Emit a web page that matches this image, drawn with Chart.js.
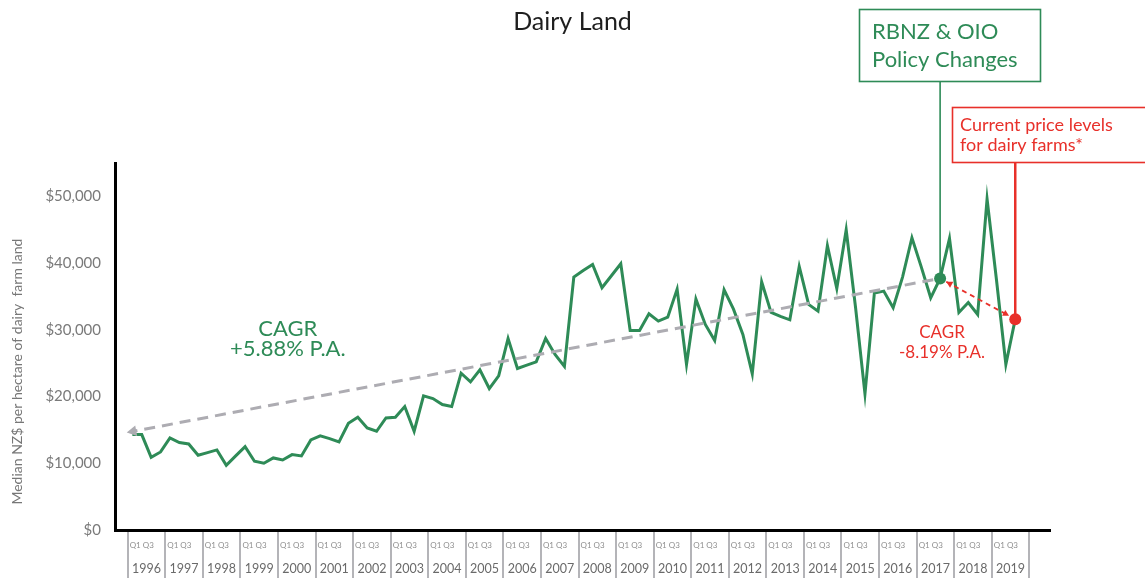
<!DOCTYPE html>
<html>
<head>
<meta charset="utf-8">
<title>Dairy Land</title>
<script src="https://cdn.jsdelivr.net/npm/chart.js@4.4.1/dist/chart.umd.min.js"></script>
<style>
  html, body { margin: 0; padding: 0; background: #fff; }
  #wrap { width: 1145px; height: 580px; }
</style>
</head>
<body>
<div id="wrap"><canvas id="dairy-chart" width="1145" height="580"></canvas></div>
<script>
// quarterly median NZ$ per hectare, 1996 Q1 .. 2019 Q3
const years = ['1996', '1997', '1998', '1999', '2000', '2001', '2002', '2003', '2004', '2005', '2006', '2007',
               '2008', '2009', '2010', '2011', '2012', '2013', '2014', '2015', '2016', '2017', '2018', '2019'];
const quarterLabel = 'Q1 Q3';
const yTicks = [0, 10000, 20000, 30000, 40000, 50000];
const prices = [
  14300, 14300, 10900, 11700, 13800, 13100, 12900, 11200,
  11600, 12000, 9700, 11100, 12500, 10300, 10000, 10800,
  10500, 11300, 11100, 13500, 14100, 13700, 13200, 16000,
  16900, 15300, 14800, 16800, 16900, 18500, 14800, 20100,
  19700, 18800, 18500, 23500, 22200, 24000, 21200, 23100,
  28700, 24200, 24700, 25200, 28700, 26300, 24500, 37900,
  38900, 39800, 36300, 38100, 39900, 29900, 29900, 32400,
  31300, 31900, 36100, 24800, 34600, 30800, 28400, 36000,
  33100, 29300, 23400, 37200, 32600, 32000, 31500, 39500,
  33800, 32800, 42600, 36200, 45000, 33300, 20400, 35500,
  35800, 33300, 37900, 43800, 39400, 34800, 37700, 43700,
  32600, 34100, 32300, 49600, 37500, 24800, 31600
];
const policyIndex = 86;   // 2017 Q3
const currentIndex = 94;  // 2019 Q3
const trendStartValue = 14600;
// trailing spaces push the rotated title a little lower, as in the original
const yTitle = 'Median NZ$ per hectare of dairy  farm land' + '\u00a0'.repeat(14);
const cagrLong = ['CAGR', '+5.88% P.A.'];
const cagrShort = ['CAGR', '-8.19% P.A.'];
const policyNote = ['RBNZ & OIO', 'Policy Changes'];
const priceNote = ['Current price levels', 'for dairy farms*'];

const green = '#2e8b57';
const red = '#e8302a';
const grey = '#adacb2';
const font = 'Lato, "Noto Sans", sans-serif';

function arrowHead(ctx, tipX, tipY, fromX, fromY, size, color) {
  const a = Math.atan2(tipY - fromY, tipX - fromX);
  ctx.fillStyle = color;
  ctx.beginPath();
  ctx.moveTo(tipX, tipY);
  ctx.lineTo(tipX - size * Math.cos(a - 0.5), tipY - size * Math.sin(a - 0.5));
  ctx.lineTo(tipX - size * Math.cos(a + 0.5), tipY - size * Math.sin(a + 0.5));
  ctx.closePath();
  ctx.fill();
}

// trim a segment by some pixels at each end
function trim(x1, y1, x2, y2, d1, d2) {
  const len = Math.hypot(x2 - x1, y2 - y1);
  const ux = (x2 - x1) / len, uy = (y2 - y1) / len;
  return [x1 + ux * d1, y1 + uy * d1, x2 - ux * d2, y2 - uy * d2];
}

// annotations: trend arrows, call-out boxes, CAGR labels
const notesPlugin = {
  id: 'notesPlugin',
  beforeDatasetsDraw(chart) {
    // sharp spikes keep their pointed tips
    chart.ctx.miterLimit = 40;
  },
  afterDatasetsDraw(chart) {
    const { ctx, scales: { x, y } } = chart;
    ctx.miterLimit = 10;
    const px = i => x.getPixelForValue(i + 0.5);
    const py = v => y.getPixelForValue(v);
    const gx = px(policyIndex), gy = py(prices[policyIndex]);
    const rx = px(currentIndex), ry = py(prices[currentIndex]);
    const tx = px(-0.6), ty = py(trendStartValue);

    ctx.save();

    // long run trend (grey dashed, arrow towards 1996)
    let s = trim(gx, gy, tx, ty, 7, 6);
    ctx.strokeStyle = grey;
    ctx.lineWidth = 3;
    ctx.setLineDash([11, 7]);
    ctx.beginPath();
    ctx.moveTo(s[0], s[1]);
    ctx.lineTo(s[2], s[3]);
    ctx.stroke();
    ctx.setLineDash([]);
    arrowHead(ctx, tx, ty, gx, gy, 11, grey);

    // short run (red dashed, arrows both ends)
    s = trim(gx, gy, rx, ry, 7, 7);
    ctx.strokeStyle = red;
    ctx.lineWidth = 1.8;
    ctx.setLineDash([5, 4]);
    ctx.beginPath();
    ctx.moveTo(s[0], s[1]);
    ctx.lineTo(s[2], s[3]);
    ctx.stroke();
    ctx.setLineDash([]);
    arrowHead(ctx, s[0], s[1], s[2], s[3], 7, red);
    arrowHead(ctx, s[2], s[3], s[0], s[1], 7, red);

    // call-out boxes
    ctx.lineWidth = 1.6;
    ctx.strokeStyle = green;
    ctx.strokeRect(859.5, 9.5, 181, 72);
    ctx.beginPath();
    ctx.moveTo(gx, 81);
    ctx.lineTo(gx, gy);
    ctx.stroke();

    ctx.strokeStyle = red;
    ctx.strokeRect(952.5, 107.5, 210, 55);
    ctx.lineWidth = 2.5;
    ctx.beginPath();
    ctx.moveTo(rx, 162);
    ctx.lineTo(rx, ry);
    ctx.stroke();

    ctx.textBaseline = 'middle';
    ctx.textAlign = 'left';
    ctx.fillStyle = green;
    ctx.font = '22px ' + font;
    ctx.fillText(policyNote[0], 872, 32);
    ctx.fillText(policyNote[1], 872, 60);
    ctx.fillStyle = red;
    ctx.font = '18px ' + font;
    ctx.fillText(priceNote[0], 960, 125);
    ctx.fillText(priceNote[1], 960, 145);

    // CAGR labels
    ctx.textAlign = 'center';
    ctx.fillStyle = green;
    ctx.font = '22px ' + font;
    const lx = x.getPixelForValue(17.05), ly = py(28700);
    ctx.fillText(cagrLong[0], lx, ly - 10);
    ctx.fillText(cagrLong[1], lx, ly + 10);
    ctx.fillStyle = red;
    ctx.font = '17px ' + font;
    const sx = x.getPixelForValue(86.7), sy = py(28100);
    ctx.fillText(cagrShort[0], sx, sy - 10);
    ctx.fillText(cagrShort[1], sx, sy + 10);

    // markers
    ctx.fillStyle = green;
    ctx.beginPath();
    ctx.arc(gx, gy, 6, 0, Math.PI * 2);
    ctx.fill();
    ctx.fillStyle = red;
    ctx.beginPath();
    ctx.arc(rx, ry, 6, 0, Math.PI * 2);
    ctx.fill();

    ctx.restore();
  }
};

const xMin = -1.35, xMax = 98.2;

new Chart(document.getElementById('dairy-chart'), {
  type: 'line',
  data: {
    datasets: [{
      data: prices.map((v, i) => ({ x: i + 0.5, y: v })),
      borderColor: green,
      borderWidth: 3,
      pointRadius: 0,
      tension: 0,
      fill: false,
      xAxisID: 'x',
      yAxisID: 'y'
    }]
  },
  options: {
    responsive: false,
    animation: false,
    layout: { padding: 0 },
    plugins: {
      legend: { display: false },
      tooltip: { enabled: false },
      title: {
        display: true,
        text: 'Dairy Land',
        color: '#1e1e1e',
        font: { family: font, size: 25, weight: 'normal' },
        padding: { top: 7, bottom: 126 }
      }
    },
    scales: {
      x: {
        type: 'linear',
        position: 'bottom',
        min: xMin,
        max: xMax,
        border: { display: true, color: '#000', width: 3 },
        grid: {
          drawOnChartArea: false,
          drawTicks: true,
          tickLength: 48,
          lineWidth: 2,
          color: c => (c.tick && c.tick.value % 4 === 0) ? '#b4b4b8' : 'rgba(0,0,0,0)'
        },
        ticks: {
          autoSkip: false,
          maxRotation: 0,
          minRotation: 0,
          padding: -37,
          color: '#8f8f8f',
          font: { family: font, size: 8 },
          callback: v => v % 4 === 0 ? '' : quarterLabel
        },
        afterBuildTicks: s => {
          const t = [];
          years.forEach((yr, k) => { t.push({ value: 4 * k }); t.push({ value: 4 * k + 1.5 }); });
          t.push({ value: 4 * years.length });
          s.ticks = t;
        },
        afterFit: s => { s.height = 24; }
      },
      xYear: {
        type: 'linear',
        position: 'bottom',
        weight: 1,
        min: xMin,
        max: xMax,
        border: { display: false },
        grid: { display: false, drawTicks: false },
        ticks: {
          autoSkip: false,
          maxRotation: 0,
          minRotation: 0,
          padding: 7,
          color: '#6a6a6a',
          font: { family: font, size: 12.5 },
          callback: v => years[(v - 2) / 4]
        },
        afterBuildTicks: s => { s.ticks = years.map((yr, k) => ({ value: 4 * k + 2 })); },
        afterFit: s => { s.height = 26; }
      },
      y: {
        min: 0,
        max: 55000,
        border: { display: true, color: '#000', width: 3 },
        grid: { display: false, drawTicks: false },
        ticks: {
          autoSkip: false,
          padding: 14,
          color: '#7a7a7a',
          font: { family: font, size: 15 },
          callback: v => '$' + v.toLocaleString('en-US')
        },
        afterBuildTicks: s => { s.ticks = yTicks.map(v => ({ value: v })); },
        title: {
          display: true,
          text: yTitle,
          color: '#777',
          font: { family: font, size: 14 },
          padding: { top: 9, bottom: 0 }
        },
        afterFit: s => { s.width = 115; }
      },
      // empty axis reserving the space right of the plot
      spacer: {
        type: 'linear',
        position: 'right',
        border: { display: false },
        grid: { display: false, drawTicks: false },
        ticks: { display: false },
        afterFit: s => { s.width = 95; }
      }
    }
  },
  plugins: [notesPlugin]
});
</script>
</body>
</html>
